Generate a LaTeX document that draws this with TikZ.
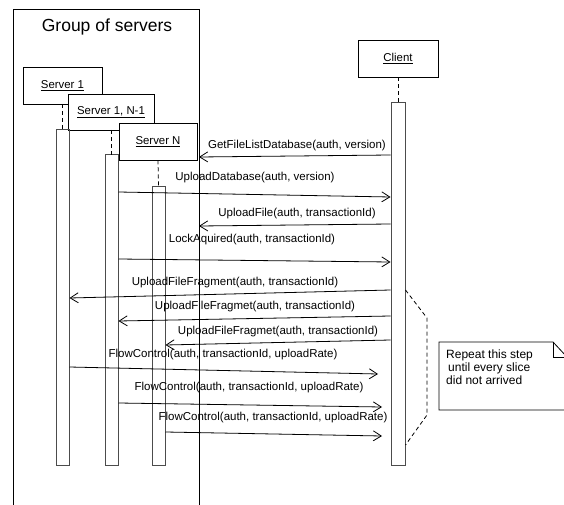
\documentclass[tikz,border=0pt]{standalone}
\usepackage{fontspec}
\setmainfont{Liberation Sans}
\usetikzlibrary{arrows.meta,calc}

\begin{document}
\begin{tikzpicture}[x=1pt,y=-1pt,
  thin line/.style={line width=0.8pt},
  headbox/.style={draw, thin line, fill=white, inner sep=0pt,
    font=\fontsize{11.4}{13}\selectfont},
  actbar/.style={draw=black!70, line width=1pt, inner sep=0pt},
  lifeline/.style={thin line, dash pattern=on 4pt off 3pt},
  msg/.style={thin line, -{Straight Barb[length=8pt,width=10pt,line width=0.8pt]}},
  msglabel/.style={inner sep=0pt, font=\fontsize{11.5}{13}\selectfont},
  notetext/.style={inner sep=0pt, align=left, anchor=north west,
    font=\fontsize{12}{12.7}\selectfont}
]
\useasboundingbox (0,0) rectangle (564,505);
\clip (0,0) rectangle (564,505);

% group frame (open at the bottom)
\draw[thin line] (13,505) -- (13,9) -- (199,9) -- (199,505);
\coordinate (gr) at (199,0);
\node[inner sep=0pt, font=\fontsize{17.5}{20}\selectfont] (title) at (107,27) {Group of servers};

% lifeline heads
\node[headbox, minimum width=79pt, minimum height=37pt] (h1) at (62.5,85.5) {\underline{Server 1}};
\node[headbox, minimum width=86pt, minimum height=36pt] (h2) at (111,112) {\underline{Server 1, N-1}};
\node[headbox, minimum width=78pt, minimum height=37pt] (h3) at (158,141.5) {\underline{Server N}};
\node[headbox, minimum width=80pt, minimum height=37pt] (hc) at (398,58.5) {\underline{Client}};

% activation bars
\node[actbar, minimum width=13pt, minimum height=335pt] (b1) at (62.5,297.5) {};
\node[actbar, minimum width=13pt, minimum height=310pt] (b2) at (111.5,310) {};
\node[actbar, minimum width=13pt, minimum height=279pt] (b3) at (158.5,325.5) {};
\node[actbar, minimum width=14pt, minimum height=362pt] (cb) at (398,284) {};

% dashed lifelines
\draw[lifeline] (62,104) -- (62,130);
\draw[lifeline] (111,130) -- (111,155);
\draw[lifeline] (h3.south) -- (b3.north);
\draw[lifeline] (hc.south) -- (cb.north);

% messages
\draw[msg] (cb.west |- 0,155) -- (gr |- 0,157);
\node[msglabel] (l1) at (297,146) {GetFileListDatabase(auth, version)};

\draw[msg] (b2.east |- 0,192) -- (cb.west |- 0,197);
\node[msglabel] (l2) at (255,178) {UploadDatabase(auth, version)};

\draw[msg] (cb.west |- 0,224) -- (gr |- 0,226);
\node[msglabel] (l3) at (297,214) {UploadFile(auth, transactionId)};

\draw[msg] (b2.east |- 0,259) -- (cb.west |- 0,262);
\node[msglabel] (l4) at (252,240) {LockAquired(auth, transactionId)};

\draw[msg] (cb.west |- 0,290) -- (b1.east |- 0,298);
\node[msglabel] (l5) at (235,283) {UploadFileFragment(auth, transactionId)};

\draw[msg] (cb.west |- 0,316) -- (b2.east |- 0,321);
\node[msglabel] (l6) at (255,307) {UploadFileFragmet(auth, transactionId)};

\draw[msg] (cb.west |- 0,340) -- (b3.east |- 0,345);
\node[msglabel] (l7) at (278,332) {UploadFileFragmet(auth, transactionId)};

\coordinate (e8) at (378,374);
\coordinate (e9) at (382,407);
\coordinate (e10) at (382,436);
\draw[msg] (b1.east |- 0,367) -- (e8);
\node[msglabel] (l8) at (223,355) {FlowControl(auth, transactionId, uploadRate)};

\draw[msg] (b2.east |- 0,403) -- (e9);
\node[msglabel] (l9) at (249,388) {FlowControl(auth, transactionId, uploadRate)};

\draw[msg] (b3.east |- 0,432) -- (e10);
\node[msglabel] (l10) at (273,418) {FlowControl(auth, transactionId, uploadRate)};

% repeat bracket
\draw[thin line, dash pattern=on 4pt off 3pt] (cb.east |- 0,290) -- (427,318) -- (427,415) -- (cb.east |- 0,445);

% note with folded corner
\draw[thin line, fill=white] (439,342) -- (553,342) -- (567,357) -- (567,410) -- (439,410) -- cycle;
\draw[thin line] (553,342) -- (553,357) -- (567,357);
\node[notetext] (note) at (446,350) {Repeat this step\\\hspace{2pt}until every slice\\did not arrived};
\end{tikzpicture}
\end{document}
